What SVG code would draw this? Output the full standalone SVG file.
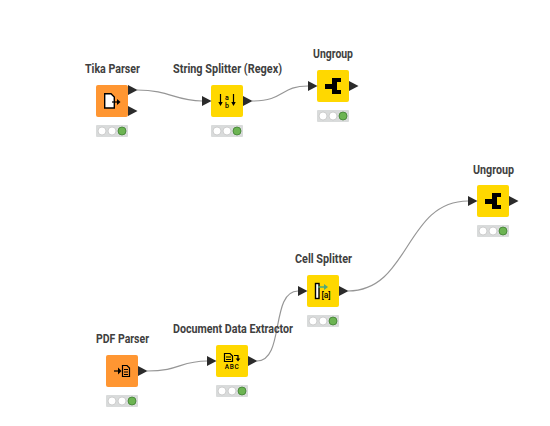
<svg xmlns="http://www.w3.org/2000/svg" width="550" height="426" viewBox="0 0 550 426">
<style>
.bg{fill:#fff}
.src{fill:#ff9632}
.man{fill:#ffd800}
.body{fill:#fff;stroke:#000;stroke-width:1.4}
.ink{fill:none;stroke:#000;stroke-width:1.2}
.solid{fill:#000}
.lbl{font-family:"Roboto","Liberation Sans",sans-serif;font-weight:700;font-size:13px;fill:#404040;text-anchor:start}
.glyph{font-family:"Roboto",sans-serif;font-weight:500;text-anchor:middle;fill:#000}
.conn{fill:none;stroke:#969696;stroke-width:1.2}
.port{fill:#2b2b2b}
.trk{fill:#d9dbdb}
.off{fill:#fff;stroke:#c4c4c4;stroke-width:.8}
.on{fill:#6cb452;stroke:#3f7f32;stroke-width:.8}
</style>
<defs>
<g id="status">
<rect class="trk" width="32" height="12" rx="1"/>
<circle class="off" cx="6" cy="6" r="4"/>
<circle class="off" cx="16" cy="6" r="4"/>
<circle class="on" cx="26" cy="6" r="4"/>
</g>
<path id="port" class="port" d="M0-5 9.500 0 0 5Z"/>
</defs>
<rect class="bg" width="550" height="426"/>
<g id="connectors">
<path class="conn" d="M137 90C170 90 175 101 202 101"/>
<path class="conn" d="M252 101C285 101 280 86 308 86"/>
<path class="conn" d="M147 371C180 371 180 361 207 361"/>
<path class="conn" d="M257 361C285 361 270 291 298 291"/>
<path class="conn" d="M348 291C410 291 405 201 468 201"/>
</g>
<g id="tika-parser">
<text class="lbl" x="85" y="73" textLength="55" lengthAdjust="spacingAndGlyphs">Tika Parser</text>
<rect class="src" x="96" y="85" width="32" height="32" rx="2"/>
<path class="body" d="M104.700 93.700H111L114.300 97V108H104.700Z"/>
<path class="ink" stroke-width="1.500" d="M112 102H118"/><path class="solid" d="M117 99 120.500 102 117 105Z"/>
<use href="#port" x="128" y="90"/><use href="#port" x="128" y="111"/>
<use href="#status" x="96" y="125"/>
</g>
<g id="string-splitter">
<text class="lbl" x="173" y="73" textLength="109" lengthAdjust="spacingAndGlyphs">String Splitter (Regex)</text>
<rect class="man" x="211" y="85" width="32" height="32" rx="2"/>
<path class="ink" d="M220.500 94V103M233.500 94V103"/>
<path class="solid" d="M218.300 102H222.700L220.500 106ZM231.300 102H235.700L233.500 106Z"/>
<text class="glyph" x="227" y="99.500" font-size="7">a</text>
<text class="glyph" x="227" y="108" font-size="7">b</text>
<use href="#port" x="202" y="101"/><use href="#port" x="243" y="101"/>
<use href="#status" x="211" y="125"/>
</g>
<g id="ungroup-1">
<text class="lbl" x="313" y="58" textLength="40" lengthAdjust="spacingAndGlyphs">Ungroup</text>
<rect class="man" x="317" y="70" width="32" height="32" rx="2"/>
<path class="solid" d="M325 84H332V78H341V82H337V90H341V94H332V89H325Z"/>
<use href="#port" x="308" y="86"/><use href="#port" x="349" y="86"/>
<use href="#status" x="317" y="110"/>
</g>
<g id="pdf-parser">
<text class="lbl" x="96" y="343" textLength="53" lengthAdjust="spacingAndGlyphs">PDF Parser</text>
<rect class="src" x="106" y="355" width="32" height="32" rx="2"/>
<path class="ink" d="M122.500 365.500H127L129.500 368V376.500H122.500ZM124 369.500H128M124 372H128M124 374.500H128"/>
<path class="ink" stroke-width="1.500" d="M114 371H119"/><path class="solid" d="M118 367.500 121.500 371 118 374.500Z"/>
<use href="#port" x="138" y="371"/>
<use href="#status" x="106" y="395"/>
</g>
<g id="document-data-extractor">
<text class="lbl" x="173" y="333" textLength="120" lengthAdjust="spacingAndGlyphs">Document Data Extractor</text>
<rect class="man" x="216" y="345" width="32" height="32" rx="2"/>
<path class="ink" d="M224.500 353.500H230L232.500 356V361.500H224.500ZM226 357H231M226 359.500H231"/>
<path class="ink" d="M234 355.500H238V359"/><path class="solid" d="M235.700 358.500H240.300L238 361.500Z"/>
<text class="glyph" x="232" y="369" font-size="6.500" letter-spacing=".6">ABC</text>
<use href="#port" x="207" y="361"/><use href="#port" x="248" y="361"/>
<use href="#status" x="216" y="385"/>
</g>
<g id="cell-splitter">
<text class="lbl" x="295" y="263" textLength="57" lengthAdjust="spacingAndGlyphs">Cell Splitter</text>
<rect class="man" x="307" y="275" width="32" height="32" rx="2"/>
<rect class="body" x="315.500" y="283.500" width="3.500" height="15"/>
<path d="M318 287H325" fill="none" stroke="#4fa77a" stroke-width="1.500"/><path d="M324 284 328 287 324 290Z" fill="#4fa77a"/>
<text class="glyph" x="326" y="298" font-size="8.500">[a]</text>
<use href="#port" x="298" y="291"/><use href="#port" x="339" y="291"/>
<use href="#status" x="307" y="315"/>
</g>
<g id="ungroup-2">
<text class="lbl" x="473" y="174" textLength="41" lengthAdjust="spacingAndGlyphs">Ungroup</text>
<rect class="man" x="477" y="185" width="32" height="32" rx="2"/>
<path class="solid" d="M485 199H492V193H501V197H497V205H501V209H492V204H485Z"/>
<use href="#port" x="468" y="201"/><use href="#port" x="509" y="201"/>
<use href="#status" x="477" y="225"/>
</g>
</svg>
